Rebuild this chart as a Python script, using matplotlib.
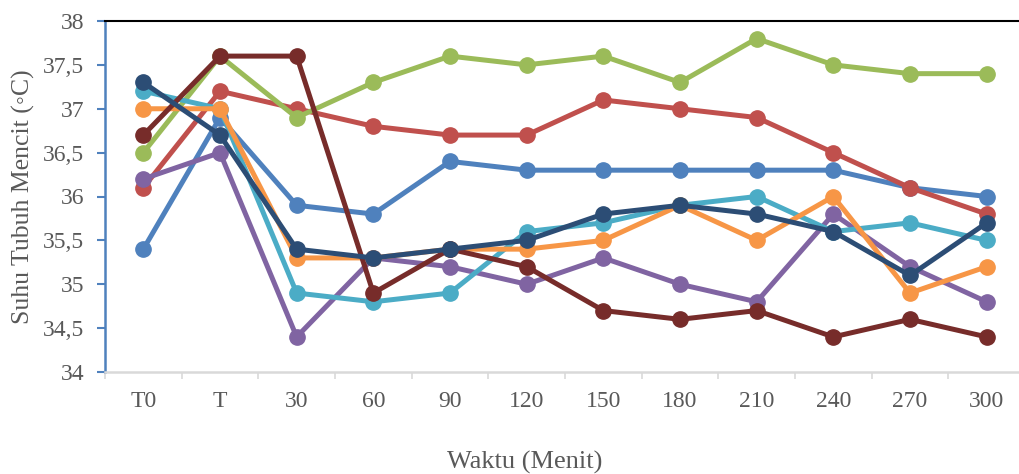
import matplotlib.pyplot as plt
import numpy as np

# categories and series values (suhu tubuh mencit)
waktu = ['T0', 'T', '30', '60', '90', '120', '150', '180', '210', '240', '270', '300']
s_biru = [35.4, 36.9, 35.9, 35.8, 36.4, 36.3, 36.3, 36.3, 36.3, 36.3, 36.1, 36.0]
s_merah = [36.1, 37.2, 37.0, 36.8, 36.7, 36.7, 37.1, 37.0, 36.9, 36.5, 36.1, 35.8]
s_hijau = [36.5, 37.6, 36.9, 37.3, 37.6, 37.5, 37.6, 37.3, 37.8, 37.5, 37.4, 37.4]
s_ungu = [36.2, 36.5, 34.4, 35.3, 35.2, 35.0, 35.3, 35.0, 34.8, 35.8, 35.2, 34.8]
s_cyan = [37.2, 37.0, 34.9, 34.8, 34.9, 35.6, 35.7, 35.9, 36.0, 35.6, 35.7, 35.5]
s_oranye = [37.0, 37.0, 35.3, 35.3, 35.4, 35.4, 35.5, 35.9, 35.5, 36.0, 34.9, 35.2]
s_merahtua = [36.7, 37.6, 37.6, 34.9, 35.4, 35.2, 34.7, 34.6, 34.7, 34.4, 34.6, 34.4]
s_birutua = [37.3, 36.7, 35.4, 35.3, 35.4, 35.5, 35.8, 35.9, 35.8, 35.6, 35.1, 35.7]
y_ticks = [34, 34.5, 35, 35.5, 36, 36.5, 37, 37.5, 38]

series = [s_biru, s_merah, s_hijau, s_ungu, s_cyan, s_oranye, s_merahtua, s_birutua]
colors = ['#4F81BD', '#C0504D', '#9BBB59', '#8064A2', '#4BACC6', '#F79646', '#772C2A', '#2C4D75']

plt.rcParams['font.family'] = ['Liberation Serif', 'DejaVu Serif']
txt = '#595959'

fig = plt.figure(figsize=(10.2, 4.74), dpi=100)
ax = fig.add_axes([105/1020, 102/474, 920/1020, 351/474])

x = np.arange(len(waktu))
for s, c in zip(series, colors):
    ax.plot(x, s, color=c, lw=3.6, marker='o', ms=11, mec=c, mfc=c, solid_joinstyle='round')

ax.set_xlim(-0.5, len(waktu) - 0.5)
ax.set_ylim(34, 38)
ax.set_yticks(y_ticks)
ax.set_yticklabels([('%g' % v).replace('.', ',') for v in y_ticks])
ax.set_xticks(x)
ax.set_xticklabels(waktu)
ax.set_xticks(np.arange(-0.5, len(waktu), 1), minor=True)
ax.tick_params(axis='x', which='major', length=0, pad=14, labelsize=17, colors=txt)
ax.tick_params(axis='x', which='minor', length=5, width=1.2, color='#D9D9D9')
ax.tick_params(axis='y', length=6, width=1.5, color='#4F81BD', labelsize=17, labelcolor=txt, pad=9)

ax.spines['right'].set_visible(False)
ax.spines['top'].set_color('black')
ax.spines['top'].set_linewidth(1.5)
ax.spines['left'].set_color('#4F81BD')
ax.spines['left'].set_linewidth(1.8)
ax.spines['bottom'].set_color('#D9D9D9')
ax.spines['bottom'].set_linewidth(1.8)

fig.text(525/1020, 1 - 462/474, 'Waktu (Menit)', ha='center', va='center', fontsize=19, color=txt)
fig.text(23/1020, 1 - 197/474, 'Suhu Tubuh Mencit (\u25e6C)', ha='center', va='center',
         rotation=90, fontsize=18.5, color=txt, family=['Liberation Serif', 'DejaVu Sans'])

fig.savefig('out.png', dpi=100)
